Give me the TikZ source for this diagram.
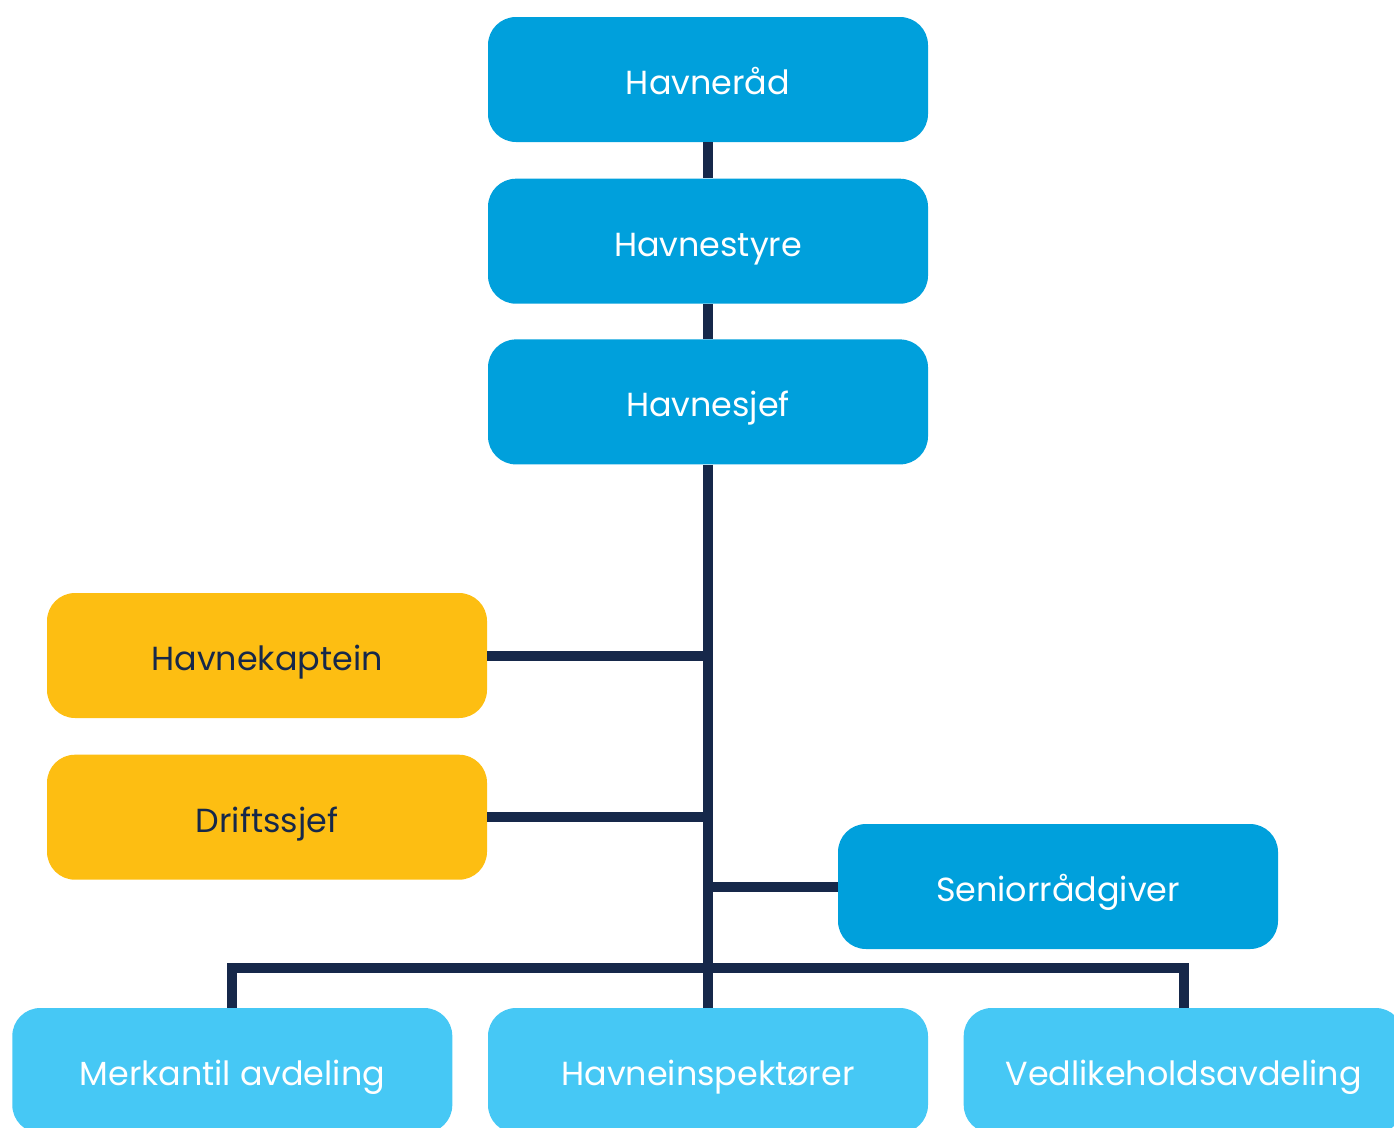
\documentclass[tikz,border=0pt]{standalone}
\usepackage{fontspec}
\setmainfont{Poppins}
\usetikzlibrary{positioning}
\definecolor{havblaa}{RGB}{0,160,220}
\definecolor{lysblaa}{RGB}{70,200,245}
\definecolor{gul}{RGB}{253,190,18}
\definecolor{marine}{RGB}{22,40,74}
\tikzset{
boks/.style={rounded corners=0.56cm, minimum width=8.8cm, minimum height=2.5cm, inner sep=0pt, text height=0.6cm, text depth=0cm, font=\fontsize{19}{22}\selectfont}, % felles for alle boksene
leder/.style={boks, fill=havblaa, text=white},
stab/.style={boks, fill=gul, text=marine},
avd/.style={boks, fill=lysblaa, text=white},
linje/.style={draw=marine, line width=0.2cm}, % linjene i organisasjonskartet
node distance=0.7cm,
}
\begin{document}
\begin{tikzpicture}
    \useasboundingbox (0,0) rectangle (27.88,-22.54);
    \clip (0,0) rectangle (27.88,-22.54);

    \node[leder] (raad) at (14.16,-1.59) {Havneråd};
    \node[leder, below=0.72cm of raad] (styre) {Havnestyre};
    \node[leder, below=of styre] (sjef) {Havnesjef};

    \node[stab] (kaptein) at (5.34,-13.11) {Havnekaptein};
    \node[stab, below=0.72cm of kaptein] (drift) {Driftssjef};
    \node[leder] (senior) at (21.16,-17.73) {Seniorrådgiver};

    \node[avd] (insp) at (14.16,-21.41) {Havneinspektører};
    \node[avd, left=of insp] (merk) {Merkantil avdeling};
    \node[avd, right=of insp] (vedl) {Vedlikeholdsavdeling};

    \coordinate (buss) at (14.16,-19.36);

    \draw[linje] (raad) -- (styre)
    (styre) -- (sjef)
    (sjef) -- (insp)
    (kaptein.east) -- (kaptein.east -| sjef.south)
    (drift.east) -- (drift.east -| sjef.south)
    (senior.west) -- (senior.west -| sjef.south)
    (merk.north) |- (buss) -| (vedl.north);

  \end{tikzpicture}
\end{document}
